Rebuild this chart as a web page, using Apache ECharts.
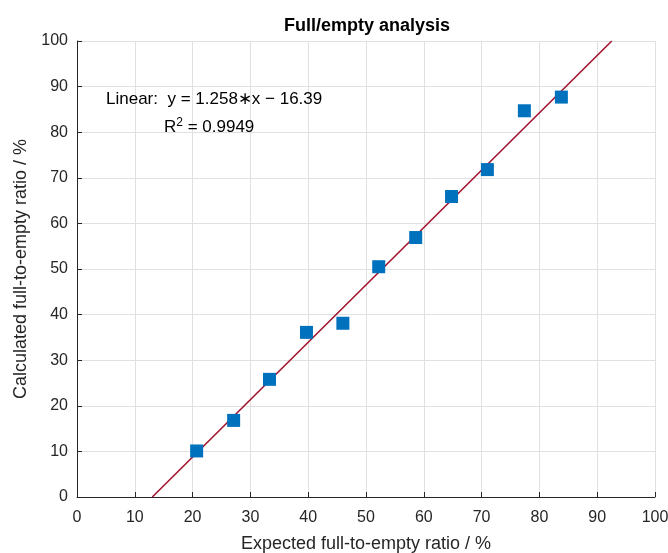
<!DOCTYPE html>
<html>
<head>
<meta charset="utf-8">
<script src="https://cdn.jsdelivr.net/npm/echarts@6/dist/echarts.min.js"></script>
<style>
html,body{margin:0;padding:0;background:#fff;}
#main{width:668px;height:553px;}
</style>
</head>
<body>
<div id="main"></div>
<script>
// measured points
var expected = [20.7, 27.1, 33.3, 39.7, 46.0, 52.2, 58.6, 64.8, 71.0, 77.4, 83.8];
var calculated = [10.1, 16.8, 25.8, 36.1, 38.1, 50.5, 56.9, 65.9, 71.8, 84.7, 87.7];
// fit coefficients
var slope = 1.258;
var intercept = -16.39;
var r2 = 0.9949;

var pts = expected.map(function(x, i){ return [x, calculated[i]]; });
// fit line clipped to the plot (y from 0 to 100)
var fitLine = [
	[(0 - intercept) / slope, 0],
	[(100 - intercept) / slope, 100]
];

var font = 'Liberation Sans, Arial, sans-serif';
var txt = '#262626';

var myChart = echarts.init(document.getElementById('main'));
var option = {
	animation: false,
	title: {
		text: 'Full/empty analysis',
		left: 362,
		textAlign: 'center',
		top: 12,
		textStyle: {fontFamily: font, fontSize: 18, fontWeight: 'bold', color: '#000'}
	},
	grid: {left: 77, right: 13, top: 41, bottom: 56, containLabel: false, outerBoundsMode: 'none'},
	xAxis: {
		type: 'value',
		min: 0, max: 100, interval: 10,
		name: 'Expected full-to-empty ratio / %',
		nameLocation: 'middle',
		nameGap: 38,
		nameTextStyle: {fontFamily: font, fontSize: 18, color: txt},
		axisLine: {lineStyle: {color: txt, width: 1}},
		axisTick: {inside: true, length: 5, lineStyle: {color: txt}},
		axisLabel: {fontFamily: font, fontSize: 16, color: txt, margin: 13},
		splitLine: {lineStyle: {color: '#e0e0e0', width: 1}}
	},
	yAxis: {
		type: 'value',
		min: 0, max: 100, interval: 10,
		name: 'Calculated full-to-empty ratio / %',
		nameLocation: 'middle',
		nameGap: 46,
		nameTextStyle: {fontFamily: font, fontSize: 18, color: txt},
		axisLine: {show: true, lineStyle: {color: txt, width: 1}},
		axisTick: {show: true, inside: true, length: 5, lineStyle: {color: txt}},
		axisLabel: {fontFamily: font, fontSize: 16, color: txt, margin: 9, padding: [4, 0, 0, 0]},
		splitLine: {lineStyle: {color: '#e0e0e0', width: 1}}
	},
	graphic: [{
		type: 'text',
		left: 106,
		top: 91,
		z: 100,
		style: {
			text: 'Linear:  y = 1.258\u2217x \u2212 16.39',
			font: '17px ' + font,
			fill: '#000'
		}
	}, {
		type: 'text',
		left: 164,
		top: 117,
		z: 100,
		style: {
			text: '{a|R}{s|2}{a| = ' + r2.toFixed(4) + '}',
			rich: {
				a: {fontFamily: font, fontSize: 17, color: '#000', lineHeight: 20},
				s: {fontFamily: font, fontSize: 12, color: '#000', verticalAlign: 'top', lineHeight: 12}
			}
		}
	}],
	series: [{
		type: 'line',
		data: fitLine,
		symbol: 'none',
		lineStyle: {color: '#A2142F', width: 1.6},
		z: 2
	}, {
		type: 'scatter',
		data: pts,
		symbol: 'rect',
		symbolSize: 13,
		itemStyle: {color: '#0072BD', opacity: 1},
		z: 3
	}]
};
myChart.setOption(option);
</script>
</body>
</html>
